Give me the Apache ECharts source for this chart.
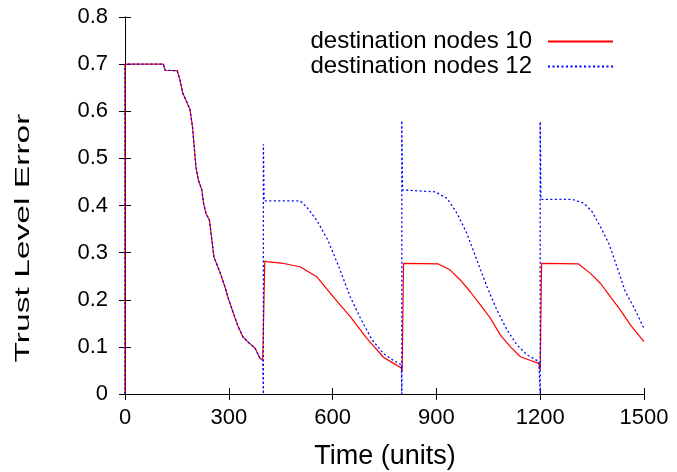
<!DOCTYPE html>
<html lang="en">
<head>
	<meta charset="UTF-8">
	<title>Trust Level Error</title>
	<style>
		html,body{
			margin:0px;
			padding:0px;
			background:#fff;
		}
		#show{
			width:677px;
			height:472px;
		}
	</style>
</head>
<body>
	<div id="show"></div>
</body>
</html>
<script type="text/javascript" src="https://cdn.jsdelivr.net/npm/echarts@6/dist/echarts.min.js"></script>
<script type="text/javascript">
	// destination nodes 10
	var time10 = [0, 0, 111, 116, 151, 159, 167, 176, 188, 195, 200, 205, 212, 222, 227, 234, 244, 251, 257, 260, 275, 289, 298, 313, 327, 341, 356, 376, 390, 398,
		400, 404, 410, 458, 506, 554, 602, 651, 699, 747, 776, 799,
		801, 805, 906, 940, 969, 998, 1027, 1056, 1085, 1114, 1143, 1172, 1196,
		1200, 1204, 1311, 1345, 1374, 1403, 1432, 1461, 1500];
	var err10 = [0, 0.70, 0.70, 0.687, 0.686, 0.666, 0.638, 0.624, 0.603, 0.567, 0.525, 0.482, 0.454, 0.433, 0.405, 0.383, 0.369, 0.327, 0.291, 0.289, 0.257, 0.227, 0.204, 0.172, 0.143, 0.121, 0.110, 0.097, 0.076, 0.072,
		0.068, 0.282, 0.281, 0.277, 0.270, 0.249, 0.206, 0.164, 0.118, 0.078, 0.065, 0.055,
		0.048, 0.277, 0.276, 0.263, 0.242, 0.217, 0.189, 0.161, 0.125, 0.100, 0.079, 0.071, 0.065,
		0.051, 0.277, 0.276, 0.256, 0.235, 0.206, 0.178, 0.146, 0.111];

	// destination nodes 12
	var time12 = [0, 0, 111, 116, 151, 159, 167, 176, 188, 195, 200, 205, 212, 222, 227, 234, 244, 251, 257, 260, 275, 289, 298, 313, 327, 341, 356, 376, 390, 398,
		400, 400, 402, 506, 525, 554, 586, 618, 651, 683, 714, 747, 776, 799,
		800, 800, 802, 897, 931, 960, 988, 1017, 1046, 1075, 1104, 1133, 1162, 1196,
		1200, 1200, 1202, 1292, 1326, 1350, 1374, 1398, 1422, 1446, 1470, 1500];
	var err12 = [0, 0.70, 0.70, 0.687, 0.686, 0.666, 0.638, 0.624, 0.603, 0.567, 0.525, 0.482, 0.454, 0.433, 0.405, 0.383, 0.369, 0.327, 0.291, 0.289, 0.257, 0.227, 0.204, 0.172, 0.143, 0.121, 0.110, 0.097, 0.076, 0.072,
		0, 0.530, 0.410, 0.410, 0.397, 0.369, 0.327, 0.270, 0.206, 0.157, 0.115, 0.086, 0.071, 0.062,
		0, 0.580, 0.433, 0.429, 0.415, 0.383, 0.341, 0.284, 0.228, 0.178, 0.136, 0.104, 0.083, 0.069,
		0, 0.578, 0.413, 0.413, 0.405, 0.387, 0.355, 0.320, 0.270, 0.217, 0.185, 0.139];

	var xTicks = [0, 1500, 300];
	var yTicks = [0, 0.8, 0.1];

	function pairs(t, v){
		var out = [];
		for(var i = 0; i < t.length; i++){
			out.push([t[i], v[i]]);
		}
		return out;
	}

	var font = '"Liberation Sans", Arial, sans-serif';
	var frameLine = {show: true, lineStyle: {color: '#000', width: 1}};
	var inTick = {show: true, inside: true, length: 6, lineStyle: {color: '#000'}};

	var option = {
		animation: false,
		grid: {left: 125, right: 33, top: 17, bottom: 78},
		legend: {
			orient: 'vertical',
			align: 'right',
			right: 58,
			top: 24,
			itemWidth: 65,
			itemHeight: 10,
			itemGap: 0,
			itemStyle: {opacity: 0},
			textStyle: {fontSize: 24, fontFamily: font, color: '#000', lineHeight: 25, padding: [0, 11, 0, 0]},
			data: ['destination nodes 10', 'destination nodes 12']
		},
		xAxis: [{
			type: 'value',
			min: xTicks[0],
			max: xTicks[1],
			interval: xTicks[2],
			axisLine: frameLine,
			axisTick: inTick,
			splitLine: {show: false},
			axisLabel: {fontSize: 22, fontFamily: font, color: '#000', margin: 13, formatter: function(v){ return String(v); }}
		},{
			type: 'value',
			position: 'top',
			min: xTicks[0],
			max: xTicks[1],
			interval: xTicks[2],
			axisLine: frameLine,
			axisTick: inTick,
			splitLine: {show: false},
			axisLabel: {show: false}
		}],
		yAxis: [{
			type: 'value',
			min: yTicks[0],
			max: yTicks[1],
			interval: yTicks[2],
			axisLine: frameLine,
			axisTick: inTick,
			splitLine: {show: false},
			axisLabel: {fontSize: 22, fontFamily: font, color: '#000', margin: 17}
		},{
			type: 'value',
			position: 'right',
			min: yTicks[0],
			max: yTicks[1],
			interval: yTicks[2],
			axisLine: frameLine,
			axisTick: inTick,
			splitLine: {show: false},
			axisLabel: {show: false}
		}],
		graphic: [{
			type: 'text',
			x: 23,
			y: 238,
			rotation: Math.PI / 2,
			scaleX: 1.6,
			style: {text: 'Trust Level Error', font: '21px ' + font, fill: '#000', textAlign: 'center', textVerticalAlign: 'middle'}
		},{
			type: 'text',
			x: 385,
			y: 457,
			style: {text: 'Time (units)', font: '27px ' + font, fill: '#000', textAlign: 'center', textVerticalAlign: 'middle'}
		}],
		series: [{
			name: 'destination nodes 10',
			type: 'line',
			symbol: 'none',
			data: pairs(time10, err10),
			lineStyle: {color: '#ff0000', width: 1.2},
			itemStyle: {color: '#ff0000'}
		},{
			name: 'destination nodes 12',
			type: 'line',
			symbol: 'none',
			data: pairs(time12, err12),
			lineStyle: {color: '#0000ff', width: 1.3, type: [2, 2.5]},
			itemStyle: {color: '#0000ff'}
		}]
	};
	var myChart = echarts.init(document.getElementById('show'));
	myChart.setOption(option);
</script>
